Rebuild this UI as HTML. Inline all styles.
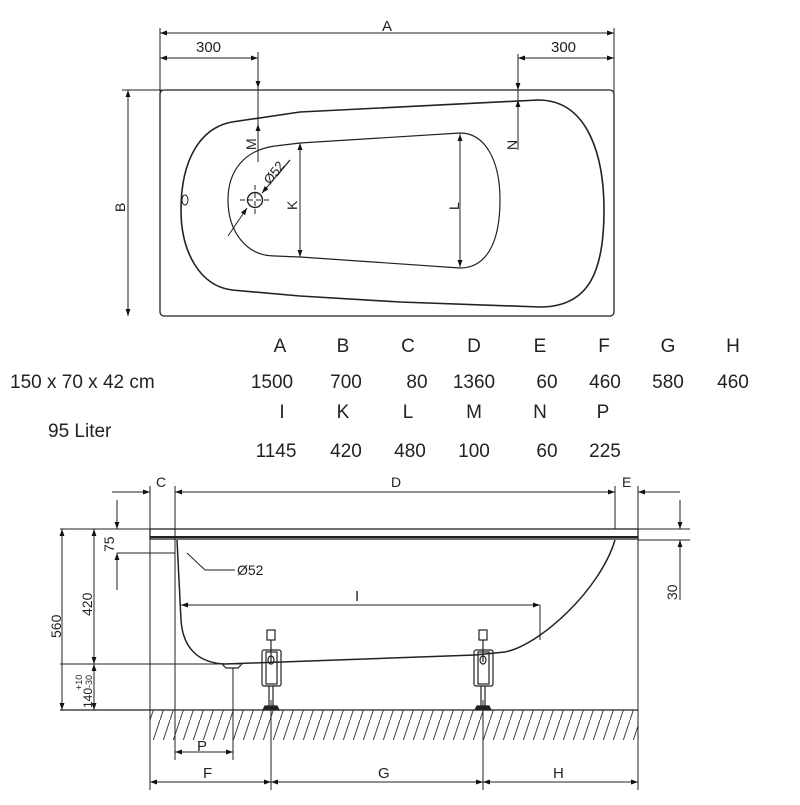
<!DOCTYPE html>
<html><head><meta charset="utf-8"><style>
body{margin:0;background:#fff;}
svg text{font-family:"Liberation Sans",Arial,sans-serif;fill:#222;}
</style></head><body>
<svg width="800" height="800" viewBox="0 0 800 800" xmlns="http://www.w3.org/2000/svg">
<defs>
<marker id="a" viewBox="0 0 10 10" refX="10" refY="5" markerWidth="9" markerHeight="7" orient="auto-start-reverse" markerUnits="userSpaceOnUse"><path d="M0,1.5 L10,5 L0,8.5z" fill="#111"/></marker>
<pattern id="h" width="10" height="30" patternUnits="userSpaceOnUse"><line x1="0" y1="30" x2="10" y2="0" stroke="#444" stroke-width="1"/></pattern>
</defs>
<g stroke="#222" fill="none" stroke-width="1">
<line x1="160" y1="28" x2="160" y2="92"/><line x1="614" y1="28" x2="614" y2="92"/>
<line x1="160" y1="33" x2="614" y2="33" marker-start="url(#a)" marker-end="url(#a)"/>
<line x1="160" y1="58" x2="258" y2="58" marker-start="url(#a)" marker-end="url(#a)"/>
<line x1="518" y1="58" x2="614" y2="58" marker-start="url(#a)" marker-end="url(#a)"/>
<line x1="258" y1="52" x2="258" y2="88" marker-end="url(#a)"/>
<line x1="258" y1="162" x2="258" y2="124" marker-end="url(#a)"/>
<line x1="258" y1="88" x2="258" y2="124"/>
<line x1="518" y1="54" x2="518" y2="90" marker-end="url(#a)"/>
<line x1="518" y1="150" x2="518" y2="100" marker-end="url(#a)"/>
<line x1="518" y1="90" x2="518" y2="100"/>
<line x1="122" y1="90" x2="162" y2="90"/>
<line x1="128" y1="90" x2="128" y2="316" marker-start="url(#a)" marker-end="url(#a)"/>
<rect x="160" y="90" width="454" height="226" rx="4" stroke-width="1.3"/>
<path d="M181,210 C181,160 200,128 232,122 L300,112 L538,100 C590,100 604,160 604,210 C604,270 590,307 540,307 L400,302 L300,296 L232,290 C200,286 181,252 181,210 Z" stroke-width="1.6"/>
<path d="M228,200 C228,170 245,150 275,146 L300,143 L460,133 C485,133 500,160 500,200 C500,245 485,268 460,268 L300,257 L275,256 C245,256 228,230 228,200 Z" stroke-width="1.2"/>
<ellipse cx="185" cy="200" rx="3" ry="5"/>
<circle cx="255" cy="200" r="7.5" stroke-width="1.4"/>
<line x1="240" y1="200" x2="270" y2="200" stroke-dasharray="5,3"/>
<line x1="255" y1="185" x2="255" y2="215" stroke-dasharray="5,3"/>
<line x1="228" y1="236" x2="247" y2="208" marker-end="url(#a)"/>
<line x1="290" y1="160" x2="262" y2="193" marker-end="url(#a)"/>
<line x1="277" y1="176" x2="290" y2="160"/>
<line x1="300" y1="143" x2="300" y2="257" marker-start="url(#a)" marker-end="url(#a)"/>
<line x1="460" y1="134" x2="460" y2="267" marker-start="url(#a)" marker-end="url(#a)"/>
</g>
<g font-size="14">
<text x="382" y="31" font-size="15">A</text>
<text x="196" y="52" font-size="15">300</text>
<text x="551" y="52" font-size="15">300</text>
<text transform="translate(125,212) rotate(-90)">B</text>
<text transform="translate(256,150) rotate(-90)">M</text>
<text transform="translate(517,150) rotate(-90)">N</text>
<text transform="translate(297,210) rotate(-90)">K</text>
<text transform="translate(459,210) rotate(-90)">L</text>
<text transform="translate(270,185) rotate(-52)" font-size="13">Ø52</text>
</g>
<g font-size="19" text-anchor="middle">
<text x="280" y="352">A</text><text x="343" y="352">B</text><text x="408" y="352">C</text><text x="474" y="352">D</text><text x="540" y="352">E</text><text x="604" y="352">F</text><text x="668" y="352">G</text><text x="733" y="352">H</text>
<text x="272" y="388">1500</text><text x="346" y="388">700</text><text x="417" y="388">80</text><text x="474" y="388">1360</text><text x="547" y="388">60</text><text x="605" y="388">460</text><text x="668" y="388">580</text><text x="733" y="388">460</text>
<text x="282" y="418">I</text><text x="343" y="418">K</text><text x="408" y="418">L</text><text x="474" y="418">M</text><text x="540" y="418">N</text><text x="603" y="418">P</text>
<text x="276" y="457">1145</text><text x="346" y="457">420</text><text x="410" y="457">480</text><text x="474" y="457">100</text><text x="547" y="457">60</text><text x="605" y="457">225</text>
</g>
<g font-size="19">
<text x="10" y="388">150 x 70 x 42 cm</text>
<text x="48" y="437">95 Liter</text>
</g>
<rect x="150" y="710" width="488" height="30" fill="url(#h)"/>
<g stroke="#222" fill="none" stroke-width="1">
<line x1="150" y1="486" x2="150" y2="790"/>
<line x1="175" y1="486" x2="175" y2="760"/>
<line x1="615" y1="486" x2="615" y2="529"/>
<line x1="638" y1="486" x2="638" y2="790"/>
<line x1="112" y1="492" x2="150" y2="492" marker-end="url(#a)"/>
<line x1="175" y1="492" x2="615" y2="492" marker-start="url(#a)" marker-end="url(#a)"/>
<line x1="680" y1="492" x2="638" y2="492" marker-end="url(#a)"/>
<rect x="150" y="529" width="488" height="10" stroke-width="1.3"/>
<line x1="150" y1="537" x2="638" y2="537" stroke-width="2"/>
<line x1="60" y1="529" x2="150" y2="529"/>
<line x1="638" y1="529" x2="690" y2="529"/>
<line x1="638" y1="540" x2="690" y2="540"/>
<line x1="680" y1="500" x2="680" y2="529" marker-end="url(#a)"/>
<line x1="680" y1="600" x2="680" y2="540" marker-end="url(#a)"/>
<line x1="117" y1="500" x2="117" y2="529" marker-end="url(#a)"/>
<line x1="117" y1="590" x2="117" y2="553" marker-end="url(#a)"/>
<line x1="117" y1="553" x2="175" y2="553"/>
<line x1="62" y1="529" x2="62" y2="710" marker-start="url(#a)" marker-end="url(#a)"/>
<line x1="94" y1="529" x2="94" y2="664" marker-start="url(#a)" marker-end="url(#a)"/>
<line x1="94" y1="690" x2="94" y2="664" marker-end="url(#a)"/>
<line x1="94" y1="690" x2="94" y2="710" marker-end="url(#a)"/>
<line x1="60" y1="664" x2="240" y2="664"/>
<line x1="60" y1="710" x2="638" y2="710" stroke-width="1.3"/>
<path d="M177,540 L181,620 C183,650 200,663 225,664 L475,655 L505,652 C540,645 600,590 615,540" stroke-width="1.5"/>
<path d="M222,664 L226,668 L238,668 L242,664" stroke-width="1.2"/>
<line x1="233" y1="668" x2="233" y2="760"/>
<path d="M187,553 L205,570 L235,570"/>
<line x1="181" y1="605" x2="540" y2="605" marker-start="url(#a)" marker-end="url(#a)"/>
<line x1="540" y1="605" x2="540" y2="640"/>
<line x1="175" y1="752" x2="233" y2="752" marker-start="url(#a)" marker-end="url(#a)"/>
<line x1="271" y1="700" x2="271" y2="790"/>
<line x1="483" y1="700" x2="483" y2="790"/>
<line x1="150" y1="782" x2="271" y2="782" marker-start="url(#a)" marker-end="url(#a)"/>
<line x1="271" y1="782" x2="483" y2="782" marker-start="url(#a)" marker-end="url(#a)"/>
<line x1="483" y1="782" x2="638" y2="782" marker-start="url(#a)" marker-end="url(#a)"/>
<g id="leg" stroke-width="1.2">
<rect x="262" y="650" width="19" height="36" rx="2"/>
<rect x="266" y="652" width="11" height="32"/>
<rect x="267" y="630" width="8" height="10"/>
<line x1="271" y1="640" x2="271" y2="662"/>
<ellipse cx="271" cy="660" rx="3" ry="4"/>
<line x1="269" y1="686" x2="269" y2="707"/><line x1="273" y1="686" x2="273" y2="707"/>
<path d="M263,710 L265,706 L277,706 L279,710Z" fill="#222"/>
</g>
<use href="#leg" x="212"/>
</g>
<g font-size="14">
<text x="156" y="487">C</text><text x="391" y="487">D</text><text x="622" y="487">E</text>
<text x="237" y="575">Ø52</text>
<text x="355" y="601" font-size="15">I</text>
<text x="197" y="751" font-size="15">P</text>
<text x="203" y="778" font-size="15">F</text><text x="378" y="778" font-size="15">G</text><text x="553" y="778" font-size="15">H</text>
<text transform="translate(114,552) rotate(-90)">75</text>
<text transform="translate(92,616) rotate(-90)">420</text>
<text transform="translate(61,638) rotate(-90)">560</text>
<text transform="translate(677,600) rotate(-90)">30</text>
<text transform="translate(92,708) rotate(-90)" font-size="12">140</text>
<text transform="translate(92,688) rotate(-90)" font-size="9">-30</text>
<text transform="translate(82,690) rotate(-90)" font-size="9">+10</text>
</g>
</svg>
</body></html>
